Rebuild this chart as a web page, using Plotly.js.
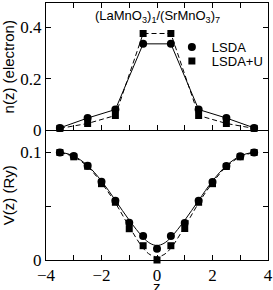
<!DOCTYPE html>
<html>
<head>
<meta charset="utf-8">
<script src="https://cdn.plot.ly/plotly-3.0.1.min.js"></script>
<style>html,body{margin:0;padding:0;background:#fff;}#chart{width:273px;height:290px;}</style>
</head>
<body>
<div id="chart"></div>
<script>
// Top panel: charge n(z)
const zN = [-3.5, -2.5, -1.5, -0.5, 0.5, 1.5, 2.5, 3.5];
const nLSDA = [0.010, 0.048, 0.081, 0.335, 0.335, 0.081, 0.048, 0.010];
const nLSDAU = [0.008, 0.027, 0.058, 0.375, 0.375, 0.058, 0.027, 0.008];

// Bottom panel: potential V(z), data points
const zV = [-3.5, -3, -2.5, -2, -1.5, -1, -0.5, 0, 0.5, 1, 1.5, 2, 2.5, 3, 3.5];
const vLSDA = [0.100, 0.0967, 0.0877, 0.0728, 0.0552, 0.0347, 0.0223, 0.0105, 0.0223, 0.0345, 0.0552, 0.0725, 0.0875, 0.0966, 0.100];
const vLSDAU = [0.100, 0.096, 0.0872, 0.071, 0.0537, 0.0291, 0.0133, 0.000, 0.0133, 0.0293, 0.0537, 0.071, 0.087, 0.096, 0.100];

// Bottom panel: smooth fitted curves
const zFit = [-3.5, -3, -2.5, -2, -1.5, -1, -0.5, -0.25, 0, 0.25, 0.5, 1, 1.5, 2, 2.5, 3, 3.5];
const vFitLSDA = [0.1005, 0.0968, 0.0878, 0.0735, 0.0555, 0.037, 0.021, 0.0155, 0.0135, 0.0155, 0.021, 0.037, 0.0555, 0.0735, 0.0878, 0.0968, 0.1005];
const vFitLSDAU = [0.100, 0.096, 0.0868, 0.0718, 0.053, 0.031, 0.011, 0.005, 0.003, 0.005, 0.011, 0.031, 0.053, 0.0718, 0.0868, 0.096, 0.100];

const seriesNames = ["LSDA", "LSDA+U"];
const titleText = "(LaMnO<sub>3</sub>)<sub>1</sub>/(SrMnO<sub>3</sub>)<sub>7</sub>";
const xTitle = "z";

const black = "#000";
const tickFont = {family: "Liberation Serif, Times New Roman, serif", size: 17, color: black};
const sansFont = {family: "Liberation Sans, Arial, sans-serif", size: 15, color: black};

const traces = [
  // top panel lines
  {x: zN, y: nLSDA, xaxis: "x2", yaxis: "y2", mode: "lines", line: {color: black, width: 1}, showlegend: false, hoverinfo: "skip"},
  {x: zN, y: nLSDAU, xaxis: "x2", yaxis: "y2", mode: "lines", line: {color: black, width: 1, dash: "5px,3px"}, showlegend: false, hoverinfo: "skip"},
  // top panel markers (legend)
  {x: zN, y: nLSDA, xaxis: "x2", yaxis: "y2", mode: "markers", name: seriesNames[0], legend: "legend",
   marker: {symbol: "circle", size: 8, color: black}, cliponaxis: false},
  {x: zN, y: nLSDAU, xaxis: "x2", yaxis: "y2", mode: "markers", name: seriesNames[1], legend: "legend2",
   marker: {symbol: "square", size: 7, color: black}, cliponaxis: false},
  // bottom panel
  {x: zFit, y: vFitLSDA, xaxis: "x", yaxis: "y", mode: "lines", line: {color: black, width: 1, shape: "spline", smoothing: 1}, showlegend: false},
  {x: zFit, y: vFitLSDAU, xaxis: "x", yaxis: "y", mode: "lines", line: {color: black, width: 1, dash: "5px,3px", shape: "spline", smoothing: 1}, showlegend: false},
  {x: zV, y: vLSDA, xaxis: "x", yaxis: "y", mode: "markers", marker: {symbol: "circle", size: 8, color: black}, showlegend: false, cliponaxis: false},
  {x: zV, y: vLSDAU, xaxis: "x", yaxis: "y", mode: "markers", marker: {symbol: "square", size: 7, color: black}, showlegend: false, cliponaxis: false}
];

const axBase = {
  showline: true, linecolor: black, linewidth: 1, zeroline: false, showgrid: false,
  ticks: "inside", ticklen: 5, tickwidth: 1, tickcolor: black, tickfont: tickFont
};
const minorX = {ticks: "inside", ticklen: 5, tickwidth: 1, tickcolor: black, dtick: 1, showgrid: false};

const split = 0.504;
const layout = {
  width: 273, height: 290,
  margin: {l: 46, r: 5, t: 3, b: 30},
  paper_bgcolor: "#fff", plot_bgcolor: "#fff",
  showlegend: true,
  xaxis: Object.assign({}, axBase, {domain: [0, 1], anchor: "y", range: [-4, 4], tick0: -4, dtick: 2, minor: minorX, mirror: false}),
  yaxis: Object.assign({}, axBase, {domain: [0, split], anchor: "x", range: [0, 0.1205], tick0: 0, dtick: 0.1,
    minor: {ticks: "inside", ticklen: 5, tickwidth: 1, tickcolor: black, dtick: 0.05, showgrid: false}, mirror: "ticks",
    title: {text: "V(z) (Ry)", font: sansFont, standoff: 4}}),
  xaxis2: Object.assign({}, axBase, {domain: [0, 1], anchor: "y2", range: [-4, 4], tick0: -4, dtick: 2, minor: minorX, showticklabels: false, mirror: "ticks"}),
  yaxis2: Object.assign({}, axBase, {domain: [split, 1], anchor: "x2", range: [0, 0.493], tick0: 0, dtick: 0.2, mirror: "ticks",
    title: {text: "n(z) (electron)", font: sansFont, standoff: 4}}),
  legend: {x: 0.567, y: 0.829, xanchor: "left", yanchor: "middle", bgcolor: "rgba(0,0,0,0)", font: {family: "Liberation Sans, Arial, sans-serif", size: 13, color: black}},
  legend2: {x: 0.567, y: 0.774, xanchor: "left", yanchor: "middle", bgcolor: "rgba(0,0,0,0)", font: {family: "Liberation Sans, Arial, sans-serif", size: 13, color: black}},
  annotations: [
    {text: titleText, xref: "x2", x: 0, yref: "paper", y: 0.949, xanchor: "center", yanchor: "middle", showarrow: false,
     font: {family: "Liberation Sans, Arial, sans-serif", size: 13, color: black}},
    {text: xTitle, xref: "x", x: 0, yref: "paper", y: -0.102, xanchor: "center", yanchor: "middle", showarrow: false,
     font: sansFont}
  ]
};

Plotly.newPlot("chart", traces, layout, {staticPlot: true, displayModeBar: false});
</script>
</body>
</html>
